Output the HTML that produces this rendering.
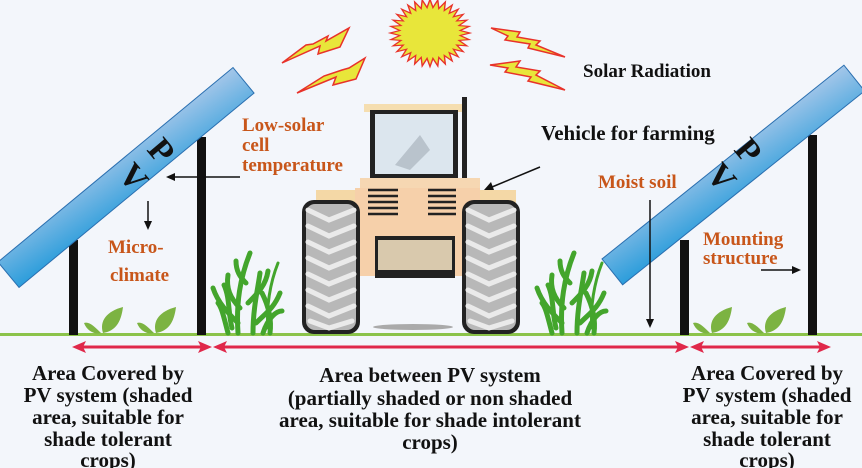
<!DOCTYPE html>
<html><head><meta charset="utf-8"><style>
html,body{margin:0;padding:0;background:#f3f6fb;}
svg{display:block}
.o{font-family:"Liberation Serif",serif;font-weight:bold;fill:#c8561a;font-size:19px}
.k{font-family:"Liberation Serif",serif;font-weight:bold;fill:#111;}
.b{font-family:"Liberation Serif",serif;font-weight:bold;fill:#111;font-size:21px}
</style></head><body>
<svg width="862" height="468" viewBox="0 0 862 468" xmlns="http://www.w3.org/2000/svg">
<defs>
<linearGradient id="pv" x1="0" y1="1" x2="1" y2="0">
<stop offset="0" stop-color="#2b9ddb"/><stop offset="1" stop-color="#a3c6e9"/></linearGradient>
</defs>
<rect width="862" height="468" fill="#f3f6fb"/>
<!-- sun -->
<polygon fill="#e8e63a" stroke="#e8322a" stroke-width="1.5" transform="translate(430,33) scale(0.95,0.8) translate(-430,-30)" points="472,30 461.8,33.1 471.2,38.2 460.6,39.3 468.8,46.1 458.2,45.1 464.9,53.3 454.7,50.3 459.7,59.7 450.3,54.7 453.3,64.9 445.1,58.2 446.1,68.8 439.3,60.6 438.2,71.2 433.1,61.8 430,72 426.9,61.8 421.8,71.2 420.7,60.6 413.9,68.8 414.9,58.2 406.7,64.9 409.7,54.7 400.3,59.7 405.3,50.3 395.1,53.3 401.8,45.1 391.2,46.1 399.4,39.3 388.8,38.2 398.2,33.1 388,30 398.2,26.9 388.8,21.8 399.4,20.7 391.2,13.9 401.8,14.9 395.1,6.7 405.3,9.7 400.3,0.3 409.7,5.3 406.7,-4.9 414.9,1.8 413.9,-8.8 420.7,-0.6 421.8,-11.2 426.9,-1.8 430,-12 433.1,-1.8 438.2,-11.2 439.3,-0.6 446.1,-8.8 445.1,1.8 453.3,-4.9 450.3,5.3 459.7,0.3 454.7,9.7 464.9,6.7 458.2,14.9 468.8,13.9 460.6,20.7 471.2,21.8 461.8,26.9"/>
<g fill="#e8e63a" stroke="#e8322a" stroke-width="1.5">
<polygon points="349,28 340,47 318,54 320,46 282,63 306,45 313,44 328,36 326,41"/>
<polygon points="365,58 356,79 333,85 336,77 297,93 324,76 342,70 349,68"/>
<polygon points="491,28 520,32 517,37 540,41 536,45 565,57 528,48 530,44 505,40 508,36"/>
<polygon points="490,65 520,61 516,67 540,71 536,75 565,90 528,81 531,77 505,72 508,68"/>
</g>
<text class="k" x="583" y="77" font-size="19">Solar Radiation</text>
<!-- ground -->
<rect x="0" y="333" width="862" height="3" fill="#8bc34a"/>
<!-- left system -->
<rect x="69" y="240" width="9" height="95" fill="#111"/>
<rect x="197" y="137" width="9" height="198" fill="#111"/>
<g transform="translate(-2,262) rotate(-39.6)">
<rect x="0" y="0" width="305" height="33" fill="url(#pv)" stroke="#2a6fb0" stroke-width="1"/>
</g>
<text class="k" font-size="34" transform="translate(146,150) rotate(50)">P</text>
<text class="k" font-size="34" transform="translate(117,175) rotate(50)">V</text>
<line x1="240" y1="177" x2="174" y2="177" stroke="#111" stroke-width="1.5"/>
<path d="M166,177 L175,173 L175,181z" fill="#111"/>
<line x1="148" y1="201" x2="148" y2="222" stroke="#111" stroke-width="1.5"/>
<path d="M148,230 L144,221 L152,221z" fill="#111"/>
<text class="o" x="242" y="131">Low-solar</text>
<text class="o" x="242" y="151">cell</text>
<text class="o" x="242" y="171">temperature</text>
<text class="o" x="108" y="253">Micro-</text>
<text class="o" x="110" y="281">climate</text>
<!-- leaves -->
<g fill="#7cb342">
<g transform="translate(103,333)"><path d="M0,0 C-4,-12 4,-22 20,-26 C18,-10 12,-2 0,0z"/><path d="M-2,0 C-8,-6 -14,-12 -19,-10 C-16,-2 -8,2 -2,0z"/></g>
<g transform="translate(156,333)"><path d="M0,0 C-4,-12 4,-22 20,-26 C18,-10 12,-2 0,0z"/><path d="M-2,0 C-8,-6 -14,-12 -19,-10 C-16,-2 -8,2 -2,0z"/></g>
<g transform="translate(712,333)"><path d="M0,0 C-4,-12 4,-22 20,-26 C18,-10 12,-2 0,0z"/><path d="M-2,0 C-8,-6 -14,-12 -19,-10 C-16,-2 -8,2 -2,0z"/></g>
<g transform="translate(766,333)"><path d="M0,0 C-4,-12 4,-22 20,-26 C18,-10 12,-2 0,0z"/><path d="M-2,0 C-8,-6 -14,-12 -19,-10 C-16,-2 -8,2 -2,0z"/></g>
</g>
<!-- corn -->
<g fill="none" stroke="#43a52c" stroke-width="5" stroke-linecap="round" transform="translate(218,333)">
<path d="M20,0 C18,-30 22,-55 32,-80"/><path d="M35,0 C35,-25 40,-45 42,-60"/>
<path d="M20,-10 C10,-20 0,-30 -5,-45"/><path d="M22,-25 C12,-35 8,-45 10,-58"/>
<path d="M30,-30 C40,-40 48,-48 50,-62"/><path d="M38,-10 C48,-20 56,-25 62,-40"/>
<path d="M10,0 C6,-15 4,-25 0,-30"/><path d="M45,0 C50,-15 58,-22 64,-22"/>
<path d="M28,-50 C22,-56 18,-62 18,-72"/><path d="M50,-5 C48,-25 52,-50 60,-70" stroke-width="3"/>
<path d="M14,-5 C10,-20 12,-35 6,-48"/><path d="M52,0 C54,-15 50,-28 44,-40"/>
</g>
<g fill="none" stroke="#43a52c" stroke-width="5" stroke-linecap="round" transform="translate(542,333)">
<path d="M20,0 C18,-30 22,-55 32,-80"/><path d="M35,0 C35,-25 40,-45 42,-60"/>
<path d="M20,-10 C10,-20 0,-30 -5,-45"/><path d="M22,-25 C12,-35 8,-45 10,-58"/>
<path d="M30,-30 C40,-40 48,-48 50,-62"/><path d="M38,-10 C48,-20 56,-25 62,-40"/>
<path d="M10,0 C6,-15 4,-25 0,-30"/><path d="M45,0 C50,-15 58,-22 64,-22"/>
<path d="M28,-50 C22,-56 18,-62 18,-72"/><path d="M50,-5 C48,-25 52,-50 60,-70" stroke-width="3"/>
<path d="M14,-5 C10,-20 12,-35 6,-48"/><path d="M52,0 C54,-15 50,-28 44,-40"/>
</g>
<!-- right system -->
<rect x="680" y="240" width="9" height="95" fill="#111"/>
<rect x="808" y="135" width="9" height="200" fill="#111"/>
<g transform="translate(602,259) rotate(-38.7)">
<rect x="0" y="0" width="310" height="33" fill="url(#pv)" stroke="#2a6fb0" stroke-width="1"/>
</g>
<text class="k" font-size="34" transform="translate(733,150) rotate(50)">P</text>
<text class="k" font-size="34" transform="translate(705,175) rotate(50)">V</text>
<text class="o" x="598" y="188">Moist soil</text>
<line x1="650" y1="200" x2="650" y2="320" stroke="#111" stroke-width="1.5"/>
<path d="M650,328 L646,319 L654,319z" fill="#111"/>
<text class="o" x="703" y="245">Mounting</text>
<text class="o" x="703" y="264">structure</text>
<line x1="761" y1="270" x2="793" y2="270" stroke="#111" stroke-width="1.5"/>
<path d="M801,270 L792,266 L792,274z" fill="#111"/>
<!-- tractor -->
<ellipse cx="413" cy="327" rx="40" ry="3" fill="#aaa"/>
<rect x="364" y="104" width="100" height="8" fill="#f5deb0"/>
<rect x="370" y="110" width="88" height="70" fill="#222"/>
<rect x="375" y="114" width="78" height="60" fill="#dce6ee"/>
<path d="M395,165 L420,135 L430,150 L410,170z" fill="#b9c3cc"/>
<rect x="462" y="97" width="5" height="88" fill="#222"/>
<rect x="360" y="178" width="120" height="16" fill="#f6d7b2"/>
<rect x="316" y="190" width="200" height="22" fill="#f4d8a6"/>
<rect x="355" y="188" width="125" height="88" fill="#f6d0aa"/>
<g stroke="#222" stroke-width="2.5"><line x1="368" y1="190" x2="398" y2="190"/><line x1="368" y1="196" x2="398" y2="196"/><line x1="368" y1="202" x2="398" y2="202"/><line x1="368" y1="208" x2="398" y2="208"/><line x1="368" y1="214" x2="398" y2="214"/><line x1="428" y1="190" x2="456" y2="190"/><line x1="428" y1="196" x2="456" y2="196"/><line x1="428" y1="202" x2="456" y2="202"/><line x1="428" y1="208" x2="456" y2="208"/><line x1="428" y1="214" x2="456" y2="214"/></g>
<rect x="375" y="236" width="80" height="42" fill="#222"/>
<rect x="378" y="240" width="74" height="30" fill="#d9c9ad"/>
<g transform="translate(302,200)"><rect x="0" y="0" width="58" height="134" rx="12" fill="#222"/><rect x="4" y="4" width="50" height="126" rx="9" fill="#b8b8b8"/>
<g stroke="#eaeaea" stroke-width="5" stroke-linecap="round" fill="none">
<path d="M6,10 L27,20 L52,10"/><path d="M6,26 L27,36 L52,26"/><path d="M6,42 L27,52 L52,42"/><path d="M6,58 L27,68 L52,58"/><path d="M6,74 L27,84 L52,74"/><path d="M6,90 L27,100 L52,90"/><path d="M6,106 L27,116 L52,106"/><path d="M8,121 L27,128 L50,121"/></g></g>
<g transform="translate(462,200)"><rect x="0" y="0" width="58" height="134" rx="12" fill="#222"/><rect x="4" y="4" width="50" height="126" rx="9" fill="#b8b8b8"/>
<g stroke="#eaeaea" stroke-width="5" stroke-linecap="round" fill="none">
<path d="M6,10 L27,20 L52,10"/><path d="M6,26 L27,36 L52,26"/><path d="M6,42 L27,52 L52,42"/><path d="M6,58 L27,68 L52,58"/><path d="M6,74 L27,84 L52,74"/><path d="M6,90 L27,100 L52,90"/><path d="M6,106 L27,116 L52,106"/><path d="M8,121 L27,128 L50,121"/></g></g>
<line x1="540" y1="167" x2="492" y2="187" stroke="#111" stroke-width="1.5"/>
<path d="M484,190 L491,182 L494,190z" fill="#111"/>
<text class="k" x="541" y="140" font-size="21">Vehicle for farming</text>
<!-- red arrows -->
<g stroke="#e0284a" stroke-width="3">
<line x1="82" y1="347" x2="203" y2="347"/>
<line x1="222" y1="347" x2="680" y2="347"/>
<line x1="698" y1="347" x2="822" y2="347"/>
</g>
<g fill="#e0284a">
<path d="M72,347 L86,341 L83,347 L86,353z"/><path d="M212,347 L198,341 L201,347 L198,353z"/>
<path d="M213,347 L227,341 L224,347 L227,353z"/><path d="M689,347 L675,341 L678,347 L675,353z"/>
<path d="M690,347 L704,341 L701,347 L704,353z"/><path d="M831,347 L817,341 L820,347 L817,353z"/>
</g>
<g class="b" text-anchor="middle">
<text x="108" y="380">Area Covered by</text><text x="108" y="402">PV system (shaded</text><text x="108" y="424">area, suitable for</text><text x="108" y="446">shade tolerant</text><text x="108" y="467">crops)</text>
<text x="430" y="382">Area between PV system</text><text x="430" y="405">(partially shaded or non shaded</text><text x="430" y="427">area, suitable for shade intolerant</text><text x="430" y="449">crops)</text>
<text x="767" y="380">Area Covered by</text><text x="767" y="402">PV system (shaded</text><text x="767" y="424">area, suitable for</text><text x="767" y="446">shade tolerant</text><text x="767" y="467">crops)</text>
</g>
</svg>
</body></html>
